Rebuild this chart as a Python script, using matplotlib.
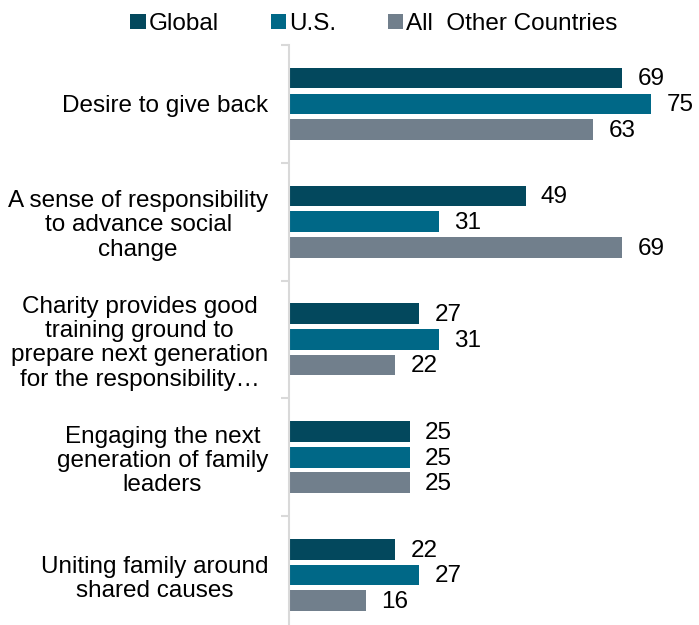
import numpy as np
import matplotlib.pyplot as plt

plt.rcParams['font.family'] = ['Liberation Sans', 'DejaVu Sans']

categories = [
    "Desire to give back",
    "A sense of responsibility\nto advance social\nchange",
    "Charity provides good\ntraining ground to\nprepare next generation\nfor the responsibility\u2026",
    "Engaging the next\ngeneration of family\nleaders",
    "Uniting family around\nshared causes",
]
series_names = ["Global", "U.S.", "All  Other Countries"]
global_vals = [69, 49, 27, 25, 22]
us_vals = [75, 31, 31, 25, 27]
other_vals = [63, 69, 22, 25, 16]

colors = ["#03485d", "#006887", "#717f8c"]
fs = 17.5

fig = plt.figure(figsize=(6.99, 6.25), dpi=100)
ax = fig.add_axes([289 / 699, -9 / 625, 410 / 699, 589 / 625])

y = np.arange(len(categories))
offsets = [-0.219, 0.0, 0.216]
bar_h = 0.176
for vals, off, col, name in zip([global_vals, us_vals, other_vals], offsets, colors, series_names):
    bars = ax.barh(y + off, vals, height=bar_h, color=col, label=name)
    for b, v in zip(bars, vals):
        ax.annotate(str(v), (b.get_width(), b.get_y() + b.get_height() / 2),
                    xytext=(11, -1), textcoords='offset points',
                    va='center', ha='left', fontsize=fs, color='black')

ax.set_xlim(0, 410 / 4.83)
ax.set_ylim(len(categories) - 0.5, -0.5)

ax.set_yticks(y)
ax.set_yticklabels(categories, fontsize=fs, multialignment='center', linespacing=1.14)
ax.tick_params(axis='y', which='major', length=0, pad=15)
ax.set_yticks(np.arange(len(categories) + 1) - 0.5, minor=True)
ax.tick_params(axis='y', which='minor', length=6, width=1.5, color='#d9d9d9')
ax.set_xticks([])

for s in ['top', 'right', 'bottom']:
    ax.spines[s].set_visible(False)
ax.spines['left'].set_color('#d9d9d9')
ax.spines['left'].set_linewidth(1.5)

leg = fig.legend(loc='center', bbox_to_anchor=(374 / 699, 1 - 24 / 625), ncol=3,
                 frameon=False, fontsize=fs, handlelength=0.62, handleheight=0.62,
                 handletextpad=0.12, columnspacing=2.15)

fig.savefig("out.png", dpi=100)
